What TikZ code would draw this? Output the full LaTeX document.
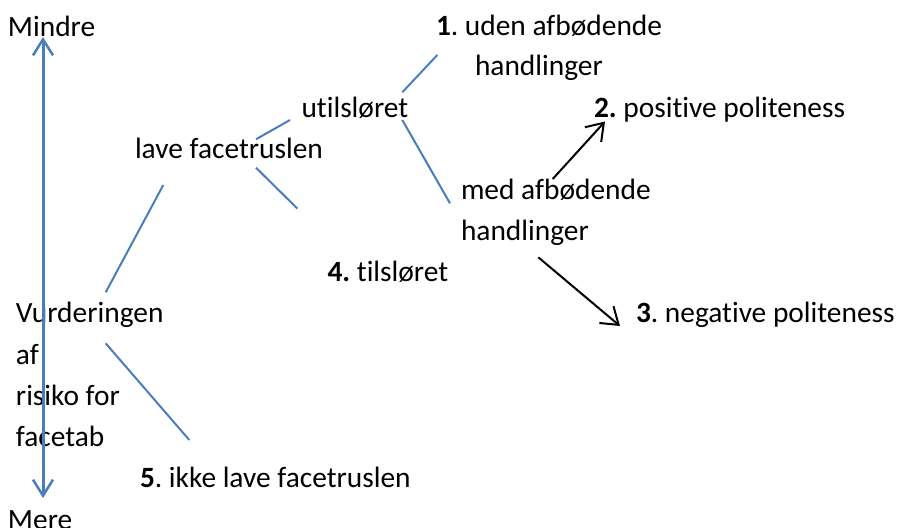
\documentclass[tikz,border=0pt]{standalone}
\usepackage{fontspec}
\setmainfont{Carlito}[Ligatures=NoCommon]
\usetikzlibrary{arrows.meta}
\definecolor{lineblue}{HTML}{4A7EBB}
\frenchspacing
\begin{document}
\begin{tikzpicture}[x=1pt,y=-1pt,
  lbl/.style={anchor=base west,inner sep=0pt,outer sep=0pt,font=\fontsize{29.4}{36}\selectfont\frenchspacing,text=black},
  branch/.style={draw=lineblue,line width=2pt},
  axis/.style={draw=lineblue,line width=3pt,{Straight Barb[length=16pt,width=20pt,line width=2.5pt]}-{Straight Barb[length=16pt,width=20pt,line width=2.5pt]}},
  choice/.style={draw=black,line width=2pt,-{Straight Barb[length=16pt,width=22pt,line width=2pt]}}]
\useasboundingbox (0,0) rectangle (898,528);
% texts
\node[lbl] (mindre) at (8,36) {Mindre};
\node[lbl] (mere) at (8,529.5) {Mere};
\node[lbl] (n1a) at (436,35) {\textbf{1}. uden afbødende};
\node[lbl] (n1b) at (475,75) {handlinger};
\node[lbl] (utils) at (301.5,117) {utilsløret};
\node[lbl] (n2) at (594,117) {\textbf{2.} positive politeness};
\node[lbl] (lave) at (135,158.5) {lave facetruslen};
\node[lbl] (meda) at (461,199.5) {med afbødende};
\node[lbl] (medb) at (461,240.5) {handlinger};
\node[lbl] (n4) at (327.5,281.5) {\textbf{4.} tilsløret};
\node[lbl] (n3) at (636,322.5) {\textbf{3}. negative politeness};
\node[lbl] (vurd1) at (16,322.5) {Vurderingen};
\node[lbl] (vurd2) at (16,364.5) {af};
\node[lbl] (vurd3) at (16,405) {risiko for};
\node[lbl] (vurd4) at (16,446) {facetab};
\node[lbl] (n5) at (140,487.5) {\textbf{5}. ikke lave facetruslen};
% connector end points
\coordinate (axtop) at (43,37);
\coordinate (axbot) at (43,498);
\coordinate (vA) at (105.7,292.3);
\coordinate (vB) at (163.3,185);
\coordinate (vC) at (105.7,343.3);
\coordinate (vD) at (189.3,440);
\coordinate (lA) at (256,139.3);
\coordinate (lB) at (290,120);
\coordinate (lC) at (256,167.7);
\coordinate (lD) at (297.3,208.5);
\coordinate (uA) at (402.3,92.3);
\coordinate (uB) at (437.3,55);
\coordinate (uC) at (402.3,120);
\coordinate (uD) at (450,203.3);
\coordinate (mA) at (552.7,179);
\coordinate (mB) at (605,121.5);
\coordinate (hA) at (538.3,257.3);
\coordinate (hB) at (620,326);
% connectors
\draw[axis] (axtop) -- (axbot);
\draw[branch] (vA) -- (vB);
\draw[branch] (vC) -- (vD);
\draw[branch] (lA) -- (lB);
\draw[branch] (lC) -- (lD);
\draw[branch] (uA) -- (uB);
\draw[branch] (uC) -- (uD);
\draw[choice] (mA) -- (mB);
\draw[choice] (hA) -- (hB);
\end{tikzpicture}
\end{document}
